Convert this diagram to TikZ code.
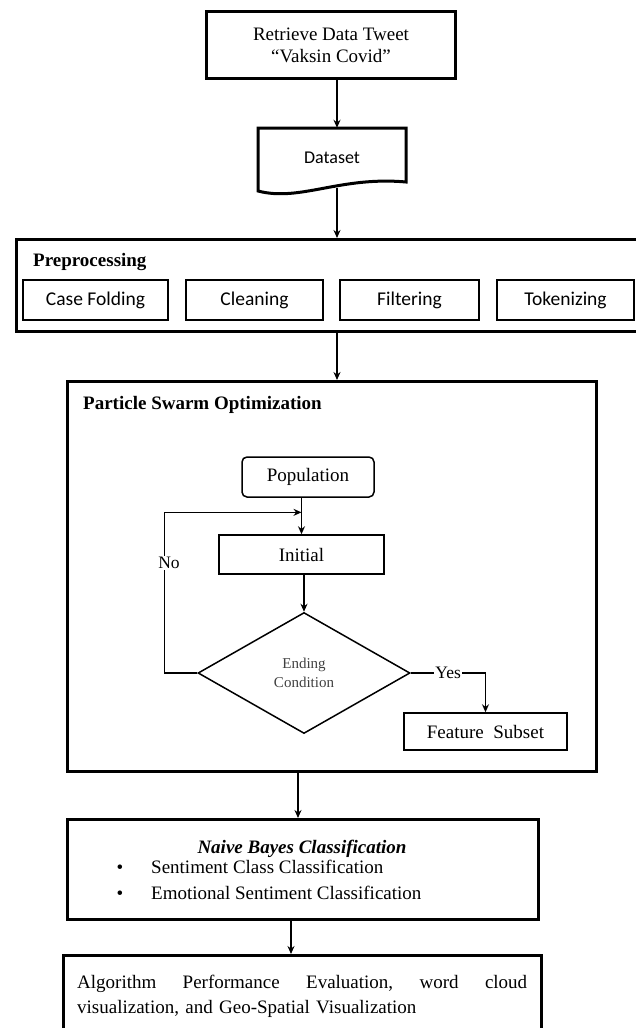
\documentclass[tikz,border=0pt]{standalone}
\usepackage{fontspec}
\setmainfont{Liberation Serif}
\newfontfamily\calfont{Carlito}
\usetikzlibrary{arrows.meta,shapes.geometric,calc}

\begin{document}
\begin{tikzpicture}[x=1pt,y=-1pt]
                    \tikzstyle{every node}=[inner sep=0,font=\fontsize{19}{22}\selectfont]
                    \tikzstyle{bigbox}=[draw,line width=3pt]
                    \tikzstyle{smallbox}=[draw,line width=1.5pt,minimum height=40]
                    \tikzstyle{stepbox}=[smallbox,font=\calfont\fontsize{19.5}{22}\selectfont]
                    \tikzstyle{boxtitle}=[anchor=base west,font=\bfseries\fontsize{19}{22}\selectfont]
                    \tikzstyle{lbl}=[fill=white,inner sep=1pt,font=\fontsize{17.5}{20}\selectfont]
                    \tikzstyle{flow}=[-{Stealth[length=8pt,width=7pt]},line width=1.5pt]
                    \useasboundingbox (0,0) rectangle (635,1028);
                    {
                        % data collection
                        \node[bigbox,minimum width=249,minimum height=67,align=center] (retrieve) at (331,45) {Retrieve Data Tweet\\``Vaksin Covid''};
                        \node[minimum width=148,minimum height=60] (data) at (332,158) {\calfont\fontsize{18}{22}\selectfont Dataset};
                        \draw[line width=3pt] (258,191) -- (258,128) -- (406,128) -- (406,182)
                            .. controls (340,176) and (300,202) .. (258,191) -- cycle;

                        % preprocessing
                        \node[bigbox,minimum width=629,minimum height=92] (prep) at (331,285.5) {};
                        \node[boxtitle] (preptitle) at (33,266) {Preprocessing};
                        \node[stepbox,minimum width=145] (fold) at (95.5,300) {Case Folding};
                        \node[stepbox,minimum width=137] (clean) at (254.5,300) {Cleaning};
                        \node[stepbox,minimum width=139] (filter) at (409.5,300) {Filtering};
                        \node[stepbox,minimum width=137] (token) at (565.5,300) {Tokenizing};

                        % particle swarm optimization
                        \node[bigbox,minimum width=529,minimum height=390] (pso) at (332,576.5) {};
                        \node[boxtitle] (psotitle) at (83,409) {Particle Swarm Optimization};
                        \node[smallbox,rounded corners=5pt,minimum width=132] (pop) at (308,477) {Population};
                        \node[smallbox,minimum width=165,minimum height=39] (init) at (301.5,554.5) {Initial};
                        \node[draw,diamond,line width=1.5pt,minimum width=212,minimum height=121,align=center,
                              font=\fontsize{15}{19}\selectfont,text=black!75] (cond) at (304,673) {Ending\\Condition};
                        \node[smallbox,minimum width=163,minimum height=37] (feat) at (485.5,731.5) {Feature\ \ Subset};

                        \draw[flow] (pop.south -| init.north) -- (init.north);
                        \draw[flow] (init.south -| cond.north) -- (cond.north);
                        \draw[flow] (cond.west) -- ++(-33,0) |- ($(pop.south -| init.north)!0.4!(init.north)$);
                        \node[lbl] (no) at (169,563) {No};
                        \draw[flow] (cond.east) -| node[lbl,pos=0.25] (yes) {Yes} (feat.north);

                        % classification
                        \node[bigbox,minimum width=471,minimum height=100] (nb) at (303,869.5) {};
                        \node[anchor=base,font=\bfseries\itshape\fontsize{19}{22}\selectfont] (nbtitle) at (302,853) {Naive Bayes Classification};
                        \node[anchor=base] (bulleta) at (120,873) {\textbullet};
                        \node[anchor=base west] (itema) at (151,873) {Sentiment Class Classification};
                        \node[anchor=base] (bulletb) at (120,899) {\textbullet};
                        \node[anchor=base west] (itemb) at (151,899) {Emotional Sentiment Classification};

                        % evaluation
                        \node[bigbox,minimum width=478,minimum height=100] (eval) at (302.5,1005.5) {};
                        \node[anchor=north west,text width=450pt,align=left,font=\fontsize{19}{25}\selectfont] (evaltext) at (77,975)
                            {Algorithm\hfill Performance\hfill Evaluation,\hfill word\hfill cloud\\
                             visualization, and Geo-Spatial Visualization};

                        \draw[flow] ([xshift=6]retrieve.south) -- ([xshift=6]retrieve.south |- data.north);
                        \draw[flow] ([xshift=5]data.south) -- ([xshift=5]data.south |- prep.north);
                        \draw[flow] ([xshift=5]data.south |- prep.south) -- ([xshift=5]data.south |- pso.north);
                        \draw[flow] ([xshift=-5]nb.north |- pso.south) -- ([xshift=-5]nb.north);
                        \draw[flow] ([xshift=-12]nb.south) -- ([xshift=-12]nb.south |- eval.north);
                    }
\end{tikzpicture}
\end{document}
